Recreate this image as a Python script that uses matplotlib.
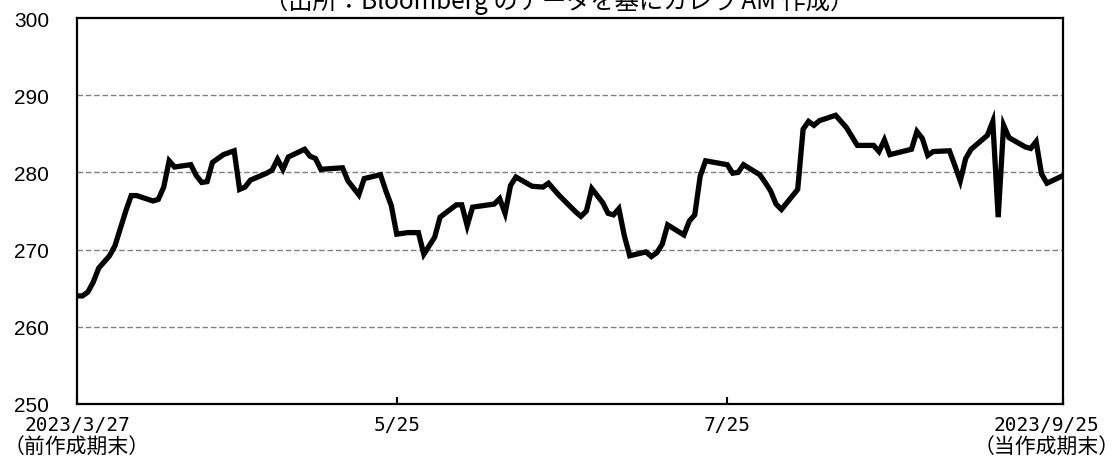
import pandas as pd
import matplotlib
matplotlib.use("Agg")
import matplotlib.pyplot as plt
from matplotlib.transforms import ScaledTranslation, blended_transform_factory

# data (days elapsed since the start date)
start_date = "2023-03-27"
day_offsets = [0, 1, 2, 3, 4, 5, 6, 7, 9, 10, 11, 14, 15, 16, 17, 18, 21, 22, 23, 24,
               25, 27, 29, 30, 31, 32, 35, 36, 37, 38, 39, 42, 43, 44, 45, 47, 49, 50,
               52, 53, 56, 57, 58, 59, 61, 63, 64, 66, 67, 70, 71, 72, 73, 75, 77, 78,
               79, 80, 81, 84, 86, 87, 89, 90, 92, 93, 94, 95, 97, 98, 99, 100, 101,
               102, 105, 106, 107, 108, 109, 112, 113, 114, 115, 116, 120, 121, 122,
               123, 126, 127, 128, 129, 130, 133, 134, 135, 136, 137, 140, 142, 144,
               147, 148, 149, 150, 154, 155, 156, 157, 158, 161, 162, 163, 164, 165,
               168, 169, 170, 171, 172, 175, 176, 177, 178, 179, 182]
values = [264.0, 264.0, 264.5, 265.8, 267.6, 268.4, 269.2, 270.5, 275.0, 277.0, 277.0,
          276.3, 276.5, 278.1, 281.5, 280.7, 281.0, 279.6, 278.7, 278.8, 281.3, 282.3,
          282.8, 277.8, 278.1, 279.0, 279.9, 280.3, 281.7, 280.4, 282.0, 283.0, 282.1,
          281.8, 280.4, 280.5, 280.6, 278.9, 277.1, 279.2, 279.7, 277.6, 275.7, 272.0,
          272.2, 272.2, 269.4, 271.6, 274.2, 275.8, 275.8, 273.1, 275.5, 275.7, 275.9,
          276.6, 274.7, 278.3, 279.4, 278.2, 278.1, 278.6, 277.0, 276.3, 274.9, 274.3,
          275.0, 277.9, 276.1, 274.7, 274.5, 275.3, 271.8, 269.2, 269.7, 269.1, 269.6,
          270.7, 273.2, 271.9, 273.7, 274.5, 279.5, 281.5, 281.0, 279.9, 280.0, 281.0,
          279.7, 278.7, 277.6, 275.9, 275.2, 277.8, 285.6, 286.6, 286.1, 286.7, 287.4,
          285.8, 283.5, 283.5, 282.7, 284.2, 282.3, 283.0, 285.3, 284.4, 282.2, 282.7,
          282.8, 280.9, 278.9, 281.8, 283.0, 284.8, 286.6, 274.2, 286.1, 284.5, 283.3,
          283.1, 284.0, 279.8, 278.6, 279.6]

tick_dates = ["2023-03-27", "2023-05-25", "2023-07-25", "2023-09-25"]
tick_labels = ["2023/3/27", "5/25", "7/25", "2023/9/25"]
period_labels = ["（前作成期末）", "（当作成期末）"]
y_ticks = [250, 260, 270, 280, 290, 300]
source_note = "（出所：Bloomberg のデータを基にカレラ AM 作成）"

plt.rcParams['font.family'] = ['Liberation Sans', 'Noto Sans CJK JP']

dates = pd.Timestamp(start_date) + pd.to_timedelta(day_offsets, unit="D")
tick_pos = pd.to_datetime(tick_dates)

fig = plt.figure(figsize=(11.18, 4.64), dpi=100)
ax = fig.add_axes([0.0689, 0.1272, 0.951 - 0.0689, 0.959 - 0.1272])

ax.plot(dates, values, color="black", linewidth=3.8, solid_joinstyle="miter")

ax.set_ylim(250, 300)
ax.set_xlim(tick_pos[0], tick_pos[-1])
ax.set_yticks(y_ticks)
ax.tick_params(axis="y", length=0, pad=20, labelsize=15)
ax.set_xticks(tick_pos)
ax.set_xticklabels(tick_labels, family="DejaVu Sans Mono", fontsize=14)
ax.tick_params(axis="x", direction="in", length=5, width=1.5, pad=8)

# the last label sits a bit left of its tick so it fits inside the picture
shift = ScaledTranslation(-17 / 100, 0, fig.dpi_scale_trans)
last = ax.get_xticklabels()[-1]
last.set_transform(last.get_transform() + shift)

trans = blended_transform_factory(ax.transData, ax.transAxes)
ax.text(tick_pos[0], -0.112, period_labels[0], transform=trans, ha="center", va="center",
        fontsize=15, family="Noto Sans CJK JP")
ax.text(tick_pos[-1], -0.112, period_labels[1], transform=trans + shift, ha="center",
        va="center", fontsize=15, family="Noto Sans CJK JP")

for y in y_ticks[1:-1]:
    ax.axhline(y, color="#808080", linewidth=1.0, linestyle=(0, (4, 2)), zorder=0)

for sp in ax.spines.values():
    sp.set_linewidth(1.6)
    sp.set_color("black")

fig.text(0.5, 1 - 9 / 464, source_note, ha="center", va="baseline", fontsize=17.5,
         family=['Noto Sans CJK JP', 'DejaVu Sans'])

fig.savefig("out.png", dpi=100)
